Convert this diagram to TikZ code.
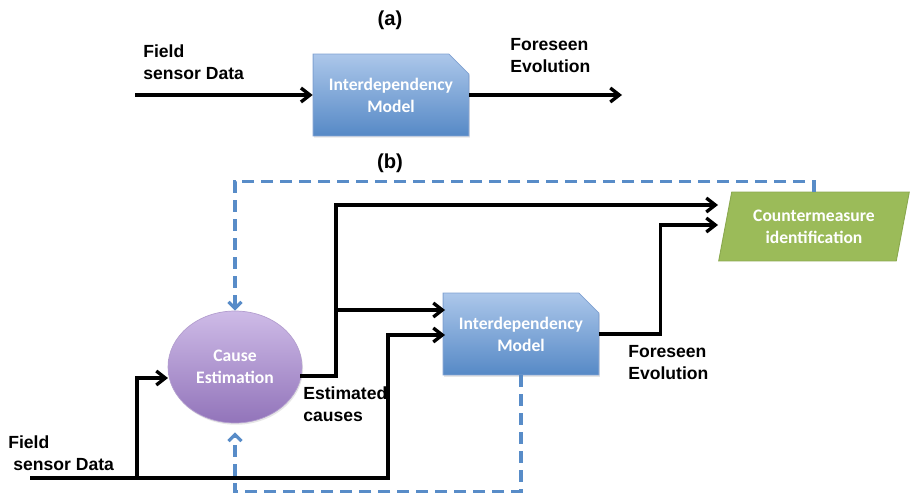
\documentclass[tikz,border=0pt]{standalone}
\usepackage{fontspec}
\setmainfont{Liberation Sans}
\newfontfamily\boxfont{Carlito}
\usetikzlibrary{arrows.meta,shapes.geometric,shapes.misc,shadows}

\definecolor{modelTop}{RGB}{172,199,234}
\definecolor{modelBot}{RGB}{86,137,198}
\definecolor{modelLine}{RGB}{128,162,210}
\definecolor{causeTop}{RGB}{206,187,231}
\definecolor{causeBot}{RGB}{146,116,186}
\definecolor{cmFill}{RGB}{155,187,89}
\definecolor{cmLine}{RGB}{138,168,78}
\definecolor{loopBlue}{RGB}{88,140,200}

\tikzset{
  lbl/.style={font=\bfseries\fontsize{10}{12.5}\selectfont, align=left, inner sep=0pt, anchor=west},
  boxtext/.style={text=white, font=\boxfont\bfseries\fontsize{10}{12.5}\selectfont, align=center},
  model/.style={boxtext, chamfered rectangle, chamfered rectangle corners=north east,
    chamfered rectangle xsep=0.2cm, chamfered rectangle ysep=0.2cm,
    minimum width=3.04cm, minimum height=1.64cm, draw=modelLine, line width=0.5pt,
    top color=modelTop, bottom color=modelBot,
    drop shadow={opacity=0.2, shadow xshift=0.6pt, shadow yshift=-1pt}},
  cause/.style={boxtext, ellipse, minimum width=2.68cm, minimum height=2.24cm,
    draw=causeBot!70!white, line width=0.4pt, top color=causeTop, bottom color=causeBot,
    drop shadow={opacity=0.2, shadow xshift=0.6pt, shadow yshift=-1pt}},
  counter/.style={boxtext, trapezium, trapezium left angle=74, trapezium right angle=106,
    trapezium stretches=true, minimum width=3.84cm, minimum height=1.38cm,
    fill=cmFill, draw=cmLine, line width=0.5pt, inner sep=0pt},
  flow/.style={line width=1.9pt, -{Straight Barb[length=1.8mm,width=2.8mm]}},
  loop/.style={draw=loopBlue, line width=1.8pt, dash pattern=on 0.24cm off 0.14cm,
    -{Straight Barb[length=1.3mm,width=2.6mm]}},
}

\begin{document}
\begin{tikzpicture}[x=0.02cm, y=-0.02cm]
  \useasboundingbox (0,0) rectangle (910,497);

  %(a) the model on its own
  \node[font=\bfseries\fontsize{11.5}{13}\selectfont] (ta) at (390,20) {(a)};
  \node[model] (ima) at (391,95) {Interdependency\\Model};
  \node[lbl] (fsa) at (143,62) {Field\\sensor Data};
  \node[lbl] (fea) at (510,56) {Foreseen\\Evolution};
  \coordinate (ina) at (135,95);
  \coordinate (outa) at (622,95);
  \draw[flow] (ina) -- (ima.west);
  \draw[flow] (ima.east) -- (outa);

  %(b) the loop with cause estimation
  \node[font=\bfseries\fontsize{11.5}{13}\selectfont] (tb) at (390,163) {(b)};
  \node[cause] (ce) at (235,367) {Cause\\Estimation};
  \node[model] (imb) at (521,334) {Interdependency\\Model};
  \node[counter] (cm) at (814,226.5) {Countermeasure\\identification};

  \node[lbl] (fsb) at (8,453) {Field\\\hspace{0.1cm}sensor Data};
  \node[lbl] (ec) at (303,404) {Estimated\\causes};
  \node[lbl] (feb) at (628,363) {Foreseen\\Evolution};

  \coordinate (fs) at (30,478);
  \coordinate (fsj) at (137,478);
  \coordinate (fsk) at (388,478);
  \coordinate (ce1) at (168,378);
  \coordinate (ceo) at (300,376);
  \coordinate (up) at (336,205);
  \coordinate (imb1) at (445,310);
  \coordinate (imb2) at (445,335);
  \coordinate (cm1) at (718,205);
  \coordinate (cm2) at (718,225);

  %field data into both blocks
  \draw[flow] (fs) -- (fsk) |- (imb2);
  \draw[flow] (fsj) |- (ce1);
  %estimated causes
  \draw[flow] (ceo) -| (up) -- (cm1);
  \draw[flow] (up |- imb1) -- (imb1);
  %foreseen evolution
  \draw[flow] (imb.east) -- ++(61,0) |- (cm2);

  %feedback loops
  \draw[loop] (cm.north) -- ++(0,-10) -| (ce.north);
  \draw[loop, shorten >=0.18cm] (imb.south) -- ++(0,116) -| (ce.south);
\end{tikzpicture}
\end{document}
